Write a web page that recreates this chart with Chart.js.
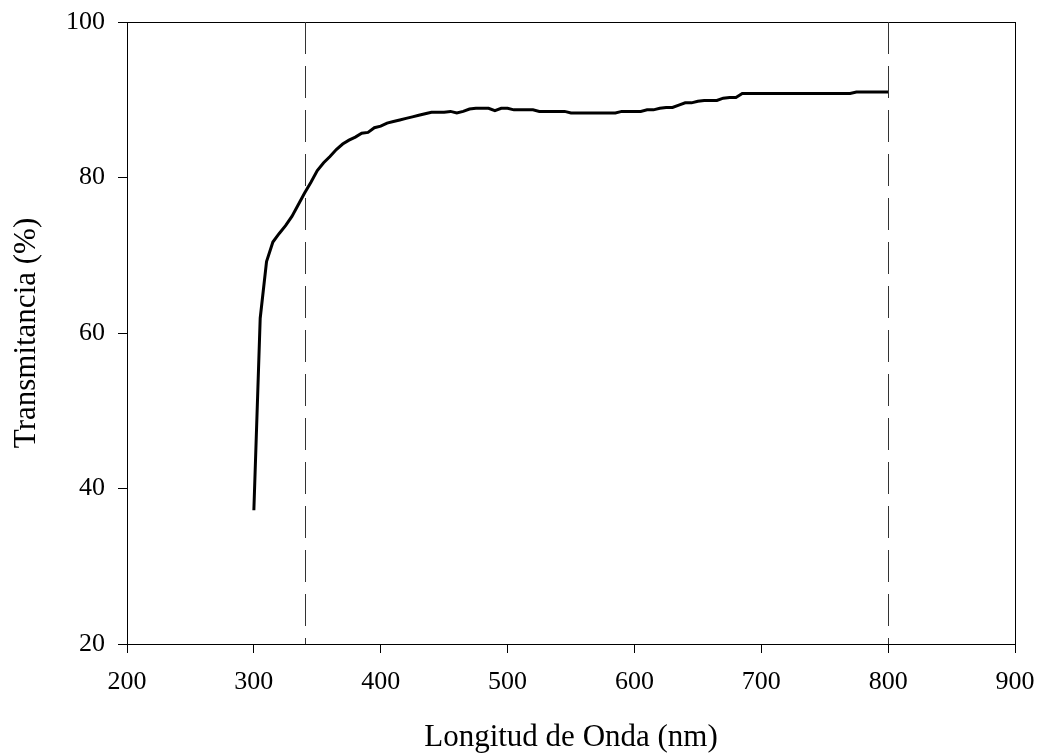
<!DOCTYPE html>
<html>
  <script src="https://cdn.jsdelivr.net/npm/chart.js@4/dist/chart.umd.min.js"></script>
  <body style="margin:0;background:#fff">
    <canvas id="transChart" width="1038" height="756"></canvas>

    <script>
      // espectro de transmitancia
      var wavelength = [300, 305, 310, 315, 320, 325, 330, 335, 340, 345, 350, 355, 360, 365, 370, 375, 380, 385, 390, 395,
                        400, 405, 410, 415, 420, 425, 430, 435, 440, 445, 450, 455, 460, 465, 470, 475, 480, 485, 490, 495,
                        500, 505, 510, 515, 520, 525, 530, 540, 545, 550, 560, 570, 580, 585, 590, 600, 605, 610, 615, 620,
                        625, 630, 635, 640, 645, 650, 655, 660, 665, 670, 675, 680, 685, 690, 700, 720, 740, 760, 770, 775, 800];
      var transmit = [37.2, 61.9, 69.2, 71.7, 72.8, 73.8, 75.0, 76.5, 78.0, 79.4, 80.9, 81.9, 82.7, 83.6, 84.3, 84.8, 85.2, 85.7, 85.8, 86.4,
                      86.6, 87.0, 87.2, 87.4, 87.6, 87.8, 88.0, 88.2, 88.4, 88.4, 88.4, 88.5, 88.3, 88.5, 88.8, 88.9, 88.9, 88.9, 88.6, 88.9,
                      88.9, 88.7, 88.7, 88.7, 88.7, 88.5, 88.5, 88.5, 88.5, 88.3, 88.3, 88.3, 88.3, 88.3, 88.5, 88.5, 88.5, 88.7, 88.7, 88.9,
                      89.0, 89.0, 89.3, 89.6, 89.6, 89.8, 89.9, 89.9, 89.9, 90.2, 90.3, 90.3, 90.8, 90.8, 90.8, 90.8, 90.8, 90.8, 90.8, 91.0, 91.0];
      var markers = [340, 800];
      var xTicks = [200, 300, 400, 500, 600, 700, 800, 900];
      var yTicks = [20, 40, 60, 80, 100];

      var points = [];
      for (var i = 0; i < wavelength.length; i++) {
        points.push({ x: wavelength[i], y: transmit[i] });
      }

      var serif = "'Liberation Serif', 'Times New Roman', serif";

      // marco del area y lineas verticales discontinuas
      var frame = {
        id: "frame",
        afterDatasetsDraw: function (chart) {
          var c = chart.ctx, a = chart.chartArea, xs = chart.scales.x;
          c.save();
          c.strokeStyle = "#000";
          c.lineWidth = 1;
          c.strokeRect(Math.round(a.left) + 0.5, Math.round(a.top) + 0.5, Math.round(a.right - a.left), Math.round(a.bottom - a.top));
          c.strokeStyle = "#333";
          c.setLineDash([32, 12]);
          markers.forEach(function (m) {
            var px = Math.round(xs.getPixelForValue(m)) + 0.5;
            c.beginPath();
            c.moveTo(px, a.top);
            c.lineTo(px, a.bottom);
            c.stroke();
          });
          c.restore();
        }
      };

      new Chart("transChart", {
        type: "line",
        data: {
          datasets: [{
            data: points,
            borderColor: "#000",
            borderWidth: 3,
            pointRadius: 0,
            tension: 0,
            fill: false
          }]
        },
        options: {
          responsive: false,
          animation: false,
          layout: { padding: { left: 0, right: 23, top: 22, bottom: 0 } },
          plugins: { legend: { display: false }, tooltip: { enabled: false } },
          scales: {
            x: {
              type: "linear",
              min: xTicks[0],
              max: xTicks[xTicks.length - 1],
              afterBuildTicks: function (s) { s.ticks = xTicks.map(function (v) { return { value: v }; }); },
              ticks: { color: "#000", font: { family: serif, size: 26 }, padding: 14, maxRotation: 0 },
              grid: { drawOnChartArea: false, tickLength: 9, color: "#000" },
              border: { color: "#000", width: 1 },
              title: { display: true, text: "Longitud de Onda (nm)", color: "#000", font: { family: serif, size: 31 }, padding: { top: 0, bottom: 0 } },
              afterFit: function (s) { s.height = 112; s.paddingLeft = 0; s.paddingRight = 0; }
            },
            y: {
              min: yTicks[0],
              max: yTicks[yTicks.length - 1],
              afterBuildTicks: function (s) { s.ticks = yTicks.map(function (v) { return { value: v }; }); },
              ticks: { color: "#000", font: { family: serif, size: 26 }, padding: 13 },
              grid: { drawOnChartArea: false, tickLength: 9, color: "#000" },
              border: { color: "#000", width: 1 },
              title: { display: true, text: "Transmitancia (%)", color: "#000", font: { family: serif, size: 31 }, padding: { top: 8, bottom: 0 } },
              afterFit: function (s) { s.width = 127; s.paddingTop = 0; s.paddingBottom = 0; }
            }
          }
        },
        plugins: [frame]
      });
    </script>
  </body>
</html>
